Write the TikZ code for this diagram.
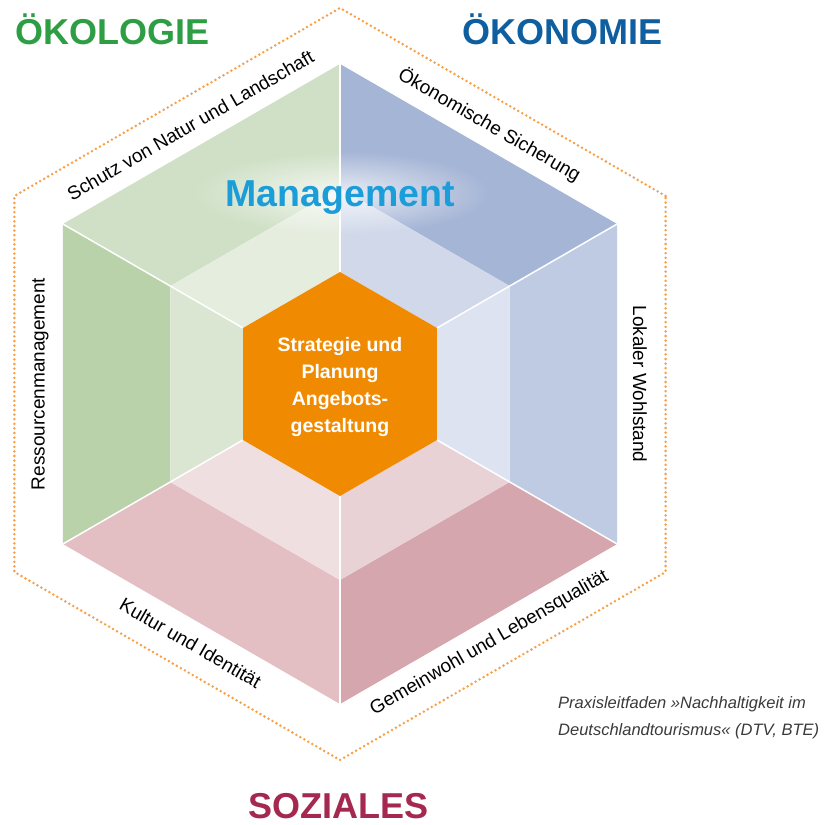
\documentclass[tikz,border=0pt]{standalone}
\usepackage{fontspec}
\setmainfont{Liberation Sans}
\usetikzlibrary{fadings}

\definecolor{gruenA}{HTML}{CFE0C6}
\definecolor{gruenAi}{HTML}{E5EDDF}
\definecolor{gruenB}{HTML}{B9D2AA}
\definecolor{gruenBi}{HTML}{DAE6D2}
\definecolor{blauA}{HTML}{A5B5D6}
\definecolor{blauAi}{HTML}{D0D8EA}
\definecolor{blauB}{HTML}{BFCBE3}
\definecolor{blauBi}{HTML}{DDE3F1}
\definecolor{rotA}{HTML}{E3BFC4}
\definecolor{rotAi}{HTML}{EFDFE1}
\definecolor{rotB}{HTML}{D5A6AD}
\definecolor{rotBi}{HTML}{E8D2D5}
\definecolor{kernorange}{HTML}{F08A00}
\definecolor{punktorange}{HTML}{F5A04A}
\definecolor{titelgruen}{HTML}{2E9E44}
\definecolor{titelblau}{HTML}{0F5FA0}
\definecolor{titelrot}{HTML}{A4284F}
\definecolor{mgmtblau}{HTML}{1B9DD9}
\definecolor{quellgrau}{HTML}{3A3A3A}

\tikzfading[name=glow, inner color=transparent!25, outer color=transparent!100]

\tikzset{
    %Define style for the edge labels
    randtext/.style={
           font=\fontsize{19}{22}\selectfont,
           text=black,
           inner sep=0pt},
    %Define style for the three headings
    titel/.style={
           font=\fontsize{36}{40}\selectfont\bfseries,
           anchor=base west,
           inner sep=0pt},
    %Define style for white separators
    kante/.style={
           draw=white,
           line width=1.5pt},
    % Define style for dotted frame
    rahmen/.style={
           draw=punktorange,
           line width=2.8pt,
           line cap=round,
           dash pattern=on 0pt off 4.6pt}
}

\begin{document}
\begin{tikzpicture}[x=1pt,y=1pt]
\useasboundingbox (-340,-441) rectangle (485,384);
 %faces, outer and inner ring
\fill[gruenA] (90:320) -- (150:320) -- (150:196) -- (90:196) -- cycle;
\fill[gruenAi] (90:196) -- (150:196) -- (150:112) -- (90:112) -- cycle;
\fill[gruenB] (150:320) -- (210:320) -- (210:196) -- (150:196) -- cycle;
\fill[gruenBi] (150:196) -- (210:196) -- (210:112) -- (150:112) -- cycle;
\fill[rotA] (210:320) -- (270:320) -- (270:196) -- (210:196) -- cycle;
\fill[rotAi] (210:196) -- (270:196) -- (270:112) -- (210:112) -- cycle;
\fill[rotB] (270:320) -- (330:320) -- (330:196) -- (270:196) -- cycle;
\fill[rotBi] (270:196) -- (330:196) -- (330:112) -- (270:112) -- cycle;
\fill[blauB] (330:320) -- (30:320) -- (30:196) -- (330:196) -- cycle;
\fill[blauBi] (330:196) -- (30:196) -- (30:112) -- (330:112) -- cycle;
\fill[blauA] (30:320) -- (90:320) -- (90:196) -- (30:196) -- cycle;
\fill[blauAi] (30:196) -- (90:196) -- (90:112) -- (30:112) -- cycle;

\foreach \a in {30,90,...,330}
  \draw[kante] (\a:112) -- (\a:320);

 %core
\fill[kernorange] (30:112) -- (90:112) -- (150:112) -- (210:112) -- (270:112) -- (330:112) -- cycle;
\node[align=center, text=white, inner sep=0pt,
  font=\fontsize{19.5}{27}\selectfont\bfseries] (strategie) at (0,-3)
  {Strategie und\\Planung\\Angebots-\\gestaltung};

 %frame
\draw[rahmen] (30:376) -- (90:376) -- (150:376) -- (210:376) -- (270:376) -- (330:376) -- cycle;

 %management
\fill[white, path fading=glow] (0,191) ellipse (150 and 42);
\node[anchor=base, inner sep=0pt, text=mgmtblau,
  font=\fontsize{37.5}{40}\selectfont\bfseries] (management) at (0,177) {Management};

 %edge labels
\node[randtext, rotate=30] (schutz) at (120:299) {Schutz von Natur und Landschaft};
\node[randtext, rotate=-30] (sicherung) at (60:299) {Ökonomische Sicherung};
\node[randtext, rotate=-90] (wohlstand) at (0:300) {Lokaler Wohlstand};
\node[randtext, rotate=90] (ressourcen) at (180:300) {Ressourcenmanagement};
\node[randtext, rotate=-30] (kultur) at (240:299) {Kultur und Identität};
\node[randtext, rotate=30] (gemeinwohl) at (300:299) {Gemeinwohl und Lebensqualität};

 %headings
\node[titel, text=titelgruen] (oekologie) at (-325,339) {ÖKOLOGIE};
\node[titel, text=titelblau] (oekonomie) at (122,339) {ÖKONOMIE};
\node[titel, text=titelrot] (soziales) at (-92,-434) {SOZIALES};

 %source
\node[anchor=north west, align=left, inner sep=0pt, text=quellgrau,
  font=\fontsize{16.5}{27}\selectfont\itshape] (quelle) at (218,-312)
  {Praxisleitfaden »Nachhaltigkeit im\\Deutschlandtourismus« (DTV, BTE)};
\end{tikzpicture}
\end{document}
